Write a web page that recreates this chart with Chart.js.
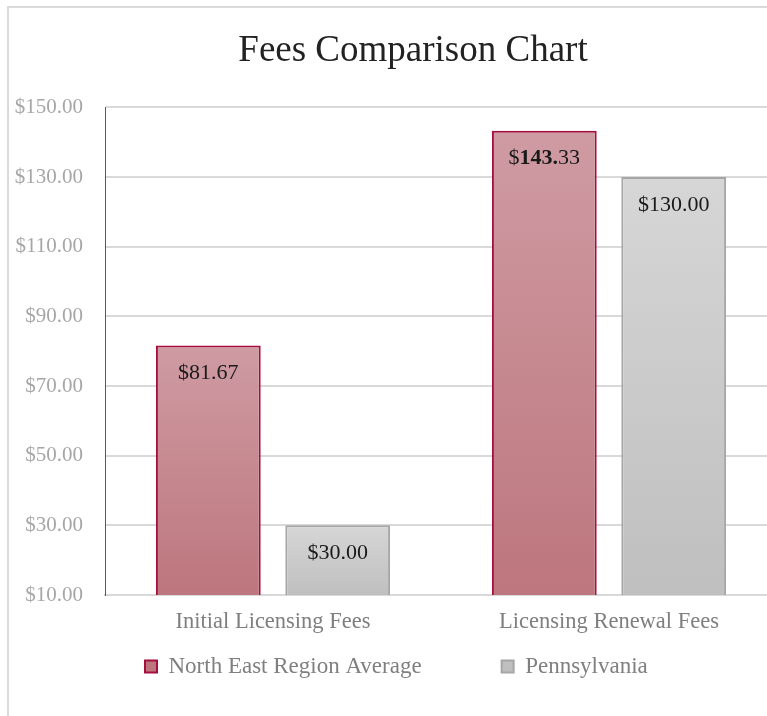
<!DOCTYPE html>
<html>
<head>
<meta charset="utf-8">
<title>Fees Comparison Chart</title>
<script src="https://cdn.jsdelivr.net/npm/chart.js@4.4.1/dist/chart.umd.min.js"></script>
<style>
    html, body { margin: 0; padding: 0; background: #fff; overflow: hidden; }
    .frame {
        position: absolute; left: 7px; top: 6px;
        width: 900px; height: 900px;
        border: 2px solid #d9d9d9;
    }
    #feesChart { position: absolute; left: 0; top: 0; }
</style>
</head>
<body>
<div class="frame">
    <canvas id="feesChart" width="768" height="755"></canvas>
</div>
<script>
// Dados
const categorias = ['Initial Licensing Fees', 'Licensing Renewal Fees'];
const seriesNomes = ['North East Region Average', 'Pennsylvania'];
const mediaNordeste = [81.67, 143.33];
const pensilvania = [30.00, 130.00];
const yTicks = [10, 30, 50, 70, 90, 110, 130, 150];

// no original o rótulo "$143.33" tem o trecho "143." em negrito
const trechosNegrito = { '0:1': [1, 5] };

const SERIF = "'Liberation Serif', 'Times New Roman', serif";

// gradiente vertical por barra (topo -> base)
function gradienteBarra(topo, base, meio) {
    return ctx => {
        const chart = ctx.chart;
        const area = chart.chartArea;
        if (!area || ctx.type !== 'data') return meio;
        const y = chart.scales.y.getPixelForValue(ctx.raw);
        const g = chart.ctx.createLinearGradient(0, y, 0, area.bottom);
        g.addColorStop(0, topo);
        g.addColorStop(1, base);
        return g;
    };
}

// rótulos de valor dentro das barras
const rotulosBarras = {
    id: 'rotulosBarras',
    afterDatasetsDraw(chart) {
        const ctx = chart.ctx;
        ctx.save();
        ctx.fillStyle = '#1a1a1a';
        ctx.textBaseline = 'middle';
        ctx.textAlign = 'left';
        chart.data.datasets.forEach((ds, di) => {
            chart.getDatasetMeta(di).data.forEach((bar, i) => {
                const texto = '$' + ds.data[i].toFixed(2);
                const t = trechosNegrito[di + ':' + i];
                const partes = t
                    ? [[texto.slice(0, t[0]), false], [texto.slice(t[0], t[1]), true], [texto.slice(t[1]), false]]
                    : [[texto, false]];
                let largura = 0;
                partes.forEach(p => {
                    ctx.font = (p[1] ? 'bold ' : '') + '22px ' + SERIF;
                    largura += ctx.measureText(p[0]).width;
                });
                let x = bar.x - largura / 2;
                const y = bar.y + 28;
                partes.forEach(p => {
                    ctx.font = (p[1] ? 'bold ' : '') + '22px ' + SERIF;
                    ctx.fillText(p[0], x, y);
                    x += ctx.measureText(p[0]).width;
                });
            });
        });
        ctx.restore();
    }
};

// ajusta título e legenda para a mesma posição do original
const ajusteLayout = {
    id: 'ajusteLayout',
    afterLayout(chart) {
        const t = chart.titleBlock;
        t.left += 20;
        t.right += 20;
        const l = chart.legend;
        const h = l.height;
        l.left = 56;
        l.top = 567;
        l.bottom = l.top + h;
    }
};

new Chart(document.getElementById('feesChart'), {
    type: 'bar',
    data: {
        labels: categorias,
        datasets: [{
            label: seriesNomes[0],
            data: mediaNordeste,
            backgroundColor: gradienteBarra('#cf9ba3', '#bd767d', '#c78a91'),
            borderColor: '#a50f3f',
            borderWidth: 2
        }, {
            label: seriesNomes[1],
            data: pensilvania,
            backgroundColor: gradienteBarra('#d6d6d6', '#bfbfbf', '#cacaca'),
            borderColor: '#a6a6a6',
            borderWidth: 2
        }]
    },
    options: {
        responsive: false,
        animation: false,
        categoryPercentage: 0.77,
        barPercentage: 0.81,
        layout: { padding: 0 },
        scales: {
            x: {
                grid: { display: false, drawTicks: false },
                border: { display: true, color: '#d9d9d9', width: 2 },
                ticks: { color: '#7f7f7f', padding: 14, font: { family: SERIF, size: 22.5 } }
            },
            y: {
                min: 10,
                max: 150,
                afterBuildTicks: s => { s.ticks = yTicks.map(v => ({ value: v })); },
                afterFit: s => { s.width = 96; },
                grid: { color: '#d9d9d9', lineWidth: 2, drawTicks: false },
                border: { display: true, color: '#595959', width: 1 },
                ticks: {
                    color: '#a6a6a6',
                    padding: 22,
                    font: { family: SERIF, size: 21 },
                    callback: v => '$' + Number(v).toFixed(2)
                }
            }
        },
        plugins: {
            title: {
                display: true,
                text: 'Fees Comparison Chart',
                color: '#222222',
                font: { family: SERIF, size: 37, weight: 'normal' },
                padding: { top: 21, bottom: 34 }
            },
            legend: {
                position: 'bottom',
                align: 'start',
                labels: {
                    color: '#7f7f7f',
                    boxWidth: 12,
                    boxHeight: 12,
                    padding: 80,
                    font: { family: SERIF, size: 23 }
                }
            },
            tooltip: { enabled: false }
        }
    },
    plugins: [rotulosBarras, ajusteLayout]
});
</script>
</body>
</html>
